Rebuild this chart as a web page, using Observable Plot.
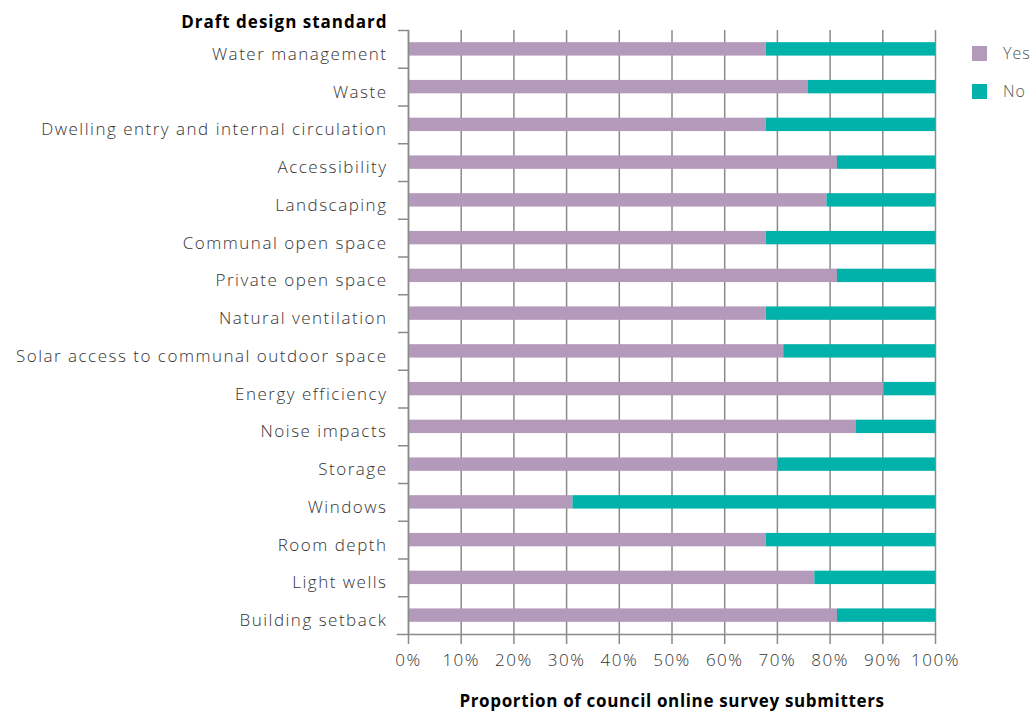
<!DOCTYPE html>
<html>
<head>
<meta charset="utf-8">
<script src="https://cdn.jsdelivr.net/npm/d3@7"></script>
<script src="https://cdn.jsdelivr.net/npm/@observablehq/plot@0.6"></script>
<style>
  html, body { margin: 0; padding: 0; background: #fff; }
  #wrap { position: relative; width: 1035px; height: 711px; font-family: "Open Sans", Lato, sans-serif; }
  #wrap svg { display: block; }
  .legend { position: absolute; left: 972px; font-size: 16px; font-weight: 300; letter-spacing: 1px; color: #555; display: flex; align-items: center; }
  .legend .sw { width: 15px; height: 15px; margin-right: 16px; }
  .lbl text { letter-spacing: 1.5px; }
  .ttl text { letter-spacing: 0.65px; }
  .ttly text { letter-spacing: 1px; }
</style>
</head>
<body>
<div id="wrap"></div>
<script>
const categories = [
  "Water management",
  "Waste",
  "Dwelling entry and internal circulation",
  "Accessibility",
  "Landscaping",
  "Communal open space",
  "Private open space",
  "Natural ventilation",
  "Solar access to communal outdoor space",
  "Energy efficiency",
  "Noise impacts",
  "Storage",
  "Windows",
  "Room depth",
  "Light wells",
  "Building setback"
];
const yesPct = [67.9, 75.9, 67.9, 81.4, 79.4, 67.9, 81.4, 67.9, 71.2, 90.2, 84.9, 70.1, 31.2, 67.9, 77.1, 81.4];
const noPct  = [32.1, 24.1, 32.1, 18.6, 20.6, 32.1, 18.6, 32.1, 28.8,  9.8, 15.1, 29.9, 68.8, 32.1, 22.9, 18.6];
const responses = ["Yes", "No"];
const colors = ["#b39aba", "#00b2a9"];
const xTicks = [0, 10, 20, 30, 40, 50, 60, 70, 80, 90, 100];
const yTitle = "Draft design standard";
const xTitle = "Proportion of council online survey submitters";

const data = [];
categories.forEach((c, i) => {
  data.push({category: c, response: "Yes", value: yesPct[i]});
  data.push({category: c, response: "No", value: noPct[i]});
});

const marginTop = 30, marginBottom = 77, H = 711;
const step = (H - marginTop - marginBottom) / categories.length;
const font = "'Open Sans', Lato, sans-serif";
const textColor = "#333";
const gridColor = "#8a8a8a";

const chart = Plot.plot({
  width: 1035,
  height: H,
  marginLeft: 408,
  marginRight: 100,
  marginTop,
  marginBottom,
  style: {fontFamily: font, fontSize: "17px", fontWeight: 300, color: textColor, background: "#fff"},
  x: {domain: [0, 100], ticks: xTicks},
  y: {domain: categories, paddingInner: 0.645, paddingOuter: 0.3225, round: false},
  color: {domain: responses, range: colors},
  marks: [
    Plot.ruleX(xTicks, {x: d => d, stroke: gridColor, strokeWidth: 1.5, insetBottom: -10}),
    Plot.barX(data, {y: "category", x: "value", fill: "response", order: responses}),
    Plot.frame({anchor: "left", stroke: gridColor, strokeWidth: 1.5}),
    Plot.frame({anchor: "bottom", stroke: gridColor, strokeWidth: 1.5, insetLeft: -11}),
    Plot.axisY({tickSize: 10, tickFormat: null, dy: -step / 2, stroke: gridColor, strokeWidth: 1.5, label: null}),
    Plot.axisY({tickSize: 0, tickPadding: 21, dy: 5, label: null, fill: textColor, fontSize: 17, className: "lbl"}),
    Plot.axisX({ticks: xTicks, tickSize: 0, tickPadding: 19, tickFormat: d => d + "%", label: null, fill: textColor, fontSize: 17, className: "lbl"}),
    Plot.text([yTitle], {frameAnchor: "top-left", textAnchor: "end", lineAnchor: "middle", dx: -21, dy: -8, fontWeight: "bold", fill: "#000", fontSize: 17, className: "ttly"}),
    Plot.text([xTitle], {frameAnchor: "bottom", textAnchor: "middle", lineAnchor: "middle", dy: 67, fontWeight: "bold", fill: "#000", fontSize: 17, className: "ttl"})
  ]
});

const wrap = document.getElementById("wrap");
wrap.appendChild(chart);
responses.forEach((r, i) => {
  const el = document.createElement("div");
  el.className = "legend";
  el.style.top = (42 + i * 38) + "px";
  el.innerHTML = `<div class="sw" style="background:${colors[i]}"></div><span>${r}</span>`;
  wrap.appendChild(el);
});
</script>
</body>
</html>
